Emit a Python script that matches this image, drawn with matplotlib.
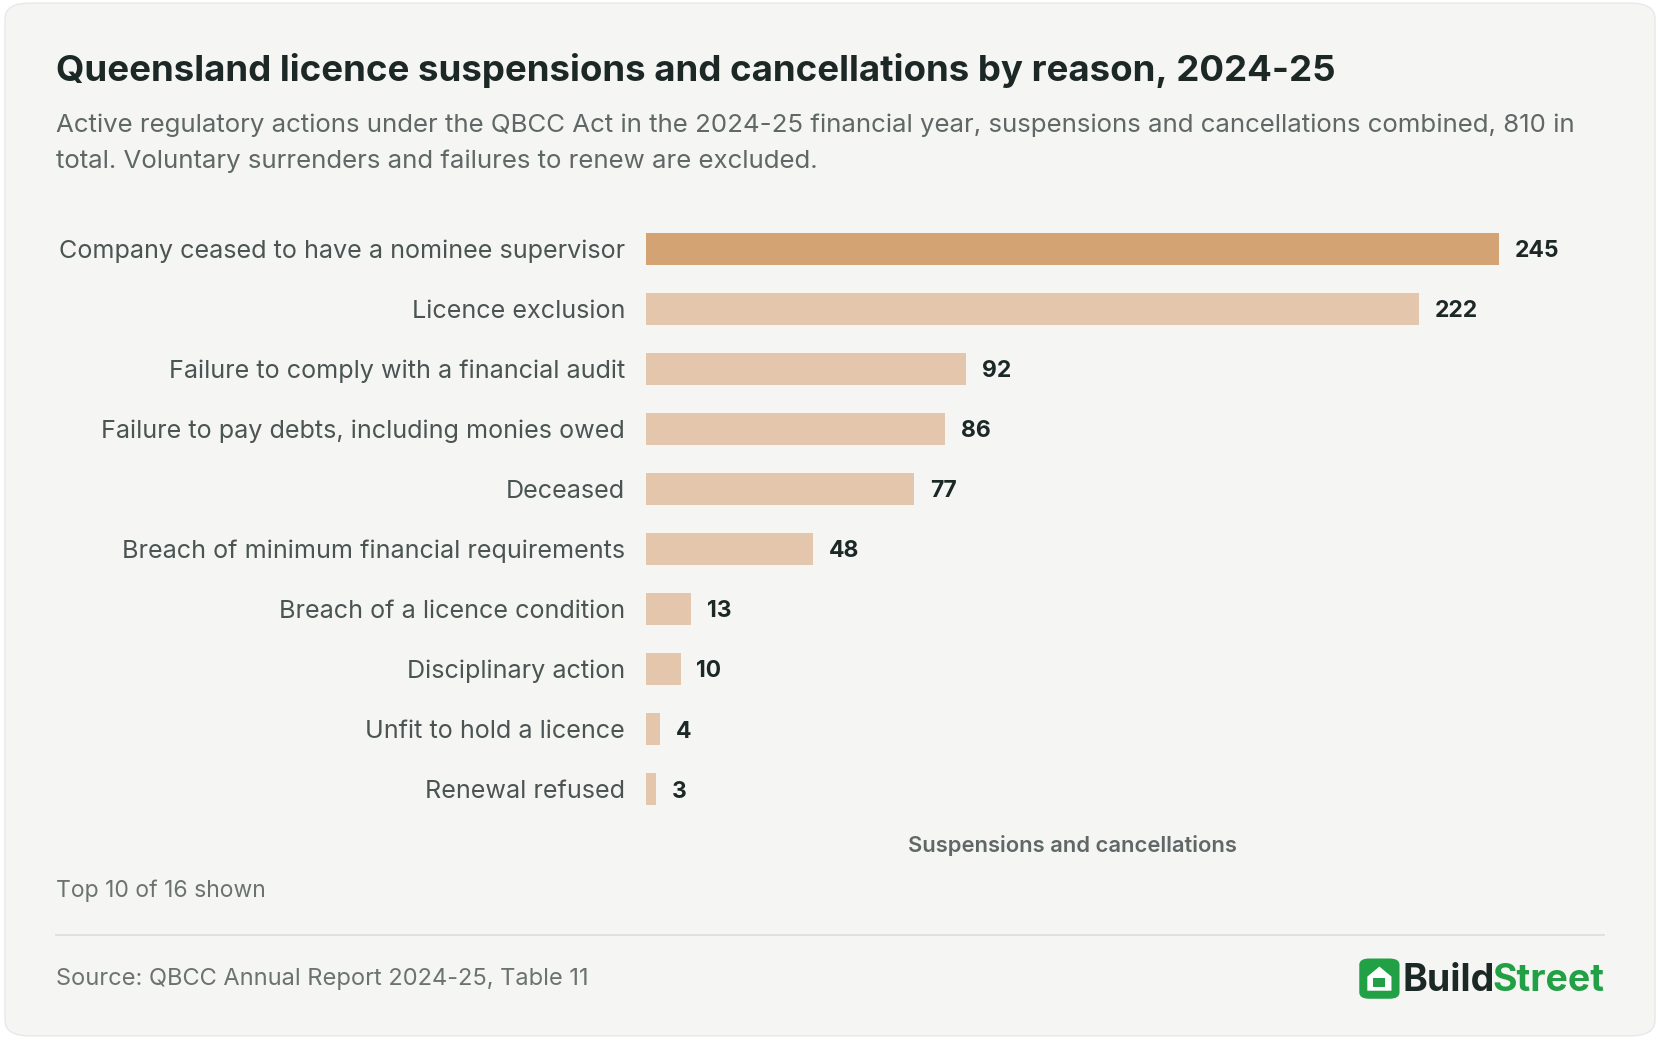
import matplotlib
matplotlib.use("Agg")
import matplotlib.pyplot as plt
from matplotlib.patches import FancyBboxPatch, Polygon

plt.rcParams['font.family'] = ['Inter', 'DejaVu Sans']

categories = ["Company ceased to have a nominee supervisor", "Licence exclusion",
              "Failure to comply with a financial audit", "Failure to pay debts, including monies owed",
              "Deceased", "Breach of minimum financial requirements", "Breach of a licence condition",
              "Disciplinary action", "Unfit to hold a licence", "Renewal refused"]
values = [245, 222, 92, 86, 77, 48, 13, 10, 4, 3]

W, H = 1568, 981
def fx(x): return x / W
def fy(y): return 1 - y / H

fig = plt.figure(figsize=(16.6, 10.39), dpi=100)
fig.patch.set_facecolor('white')
fig.patches.append(FancyBboxPatch((0.003, 0.003), 0.994, 0.994, boxstyle="round,pad=0,rounding_size=0.015",
                                  transform=fig.transFigure, facecolor='#f5f5f4', edgecolor='#e8e8e8', lw=1, zorder=0))

fig.text(fx(53), fy(67), "Queensland licence suspensions and cancellations by reason, 2024-25",
         fontsize=26.4, fontweight='bold', color='#1c2826', va='center')
fig.text(fx(53), fy(118), "Active regulatory actions under the QBCC Act in the 2024-25 financial year, suspensions and cancellations combined, 810 in",
         fontsize=18.6, color='#5f6866', va='center')
fig.text(fx(53), fy(152), "total. Voluntary surrenders and failures to renew are excluded.",
         fontsize=18.6, color='#5f6866', va='center')

ax = fig.add_axes([fx(610), fy(773.3), fx(1416) - fx(610), (773.3 - 206.7) / H])
ax.set_zorder(3)
ax.set_facecolor('none')
colors = ['#d4a373'] + ['#e3c6ab'] * (len(values) - 1)
ypos = list(range(len(values)))
ax.barh(ypos, values, height=0.53, color=colors)
ax.set_xlim(0, 245)
ax.set_ylim(len(values) - 0.5, -0.5)
ax.set_yticks(ypos)
ax.set_yticklabels(categories, fontsize=18.1, color='#4a5553')
ax.tick_params(axis='y', length=0, pad=15)
ax.set_xticks([])
for s in ax.spines.values():
    s.set_visible(False)
for y, v in zip(ypos, values):
    ax.text(v + 4.5, y, str(v), va='center_baseline', ha='left', fontsize=16.5, fontweight='bold', color='#1c2826')

fig.text(fx(1013), fy(798), "Suspensions and cancellations", ha='center', va='center',
         fontsize=15.8, fontweight='semibold', color='#5f6866')
fig.text(fx(53), fy(841), "Top 10 of 16 shown", fontsize=16.5, color='#6b7371', va='center')
fig.add_artist(plt.Line2D([fx(53), fx(1515)], [fy(883), fy(883)], transform=fig.transFigure,
                          color='#dcdcdc', lw=1.2))
fig.text(fx(53), fy(924), "Source: QBCC Annual Report 2024-25, Table 11", fontsize=17, color='#6b7371', va='center')

# logo
t2 = fig.text(fx(1515), fy(926), "Street", fontsize=27, fontweight='bold', color='#22a045', ha='right', va='center')
fig.canvas.draw()
bb = t2.get_window_extent().transformed(fig.transFigure.inverted())
t1 = fig.text(bb.x0 + 0.002, fy(926), "Build", fontsize=27, fontweight='bold', color='#1c2826', ha='right', va='center')
fig.canvas.draw()
bb1 = t1.get_window_extent().transformed(fig.transFigure.inverted())
ix1 = bb1.x0 - 0.002
ix0 = ix1 - fx(38)
iy0, iy1 = fy(943), fy(905)
fig.patches.append(FancyBboxPatch((ix0, iy0), ix1 - ix0, iy1 - iy0, boxstyle="round,pad=0,rounding_size=0.006",
                                  transform=fig.transFigure, facecolor='#22a045', edgecolor='none'))
cx = (ix0 + ix1) / 2
w = (ix1 - ix0)
h = (iy1 - iy0)
house = Polygon([(cx - 0.3 * w, iy0 + 0.2 * h), (cx - 0.3 * w, iy0 + 0.55 * h), (cx, iy0 + 0.8 * h),
                 (cx + 0.3 * w, iy0 + 0.55 * h), (cx + 0.3 * w, iy0 + 0.2 * h)],
                closed=True, transform=fig.transFigure, facecolor='white', edgecolor='none')
fig.patches.append(house)
fig.patches.append(FancyBboxPatch((cx - 0.15 * w, iy0 + 0.3 * h), 0.3 * w, 0.22 * h, boxstyle="square,pad=0",
                                  transform=fig.transFigure, facecolor='#22a045', edgecolor='none'))

fig.savefig("out.png", dpi=100, facecolor=fig.get_facecolor())
